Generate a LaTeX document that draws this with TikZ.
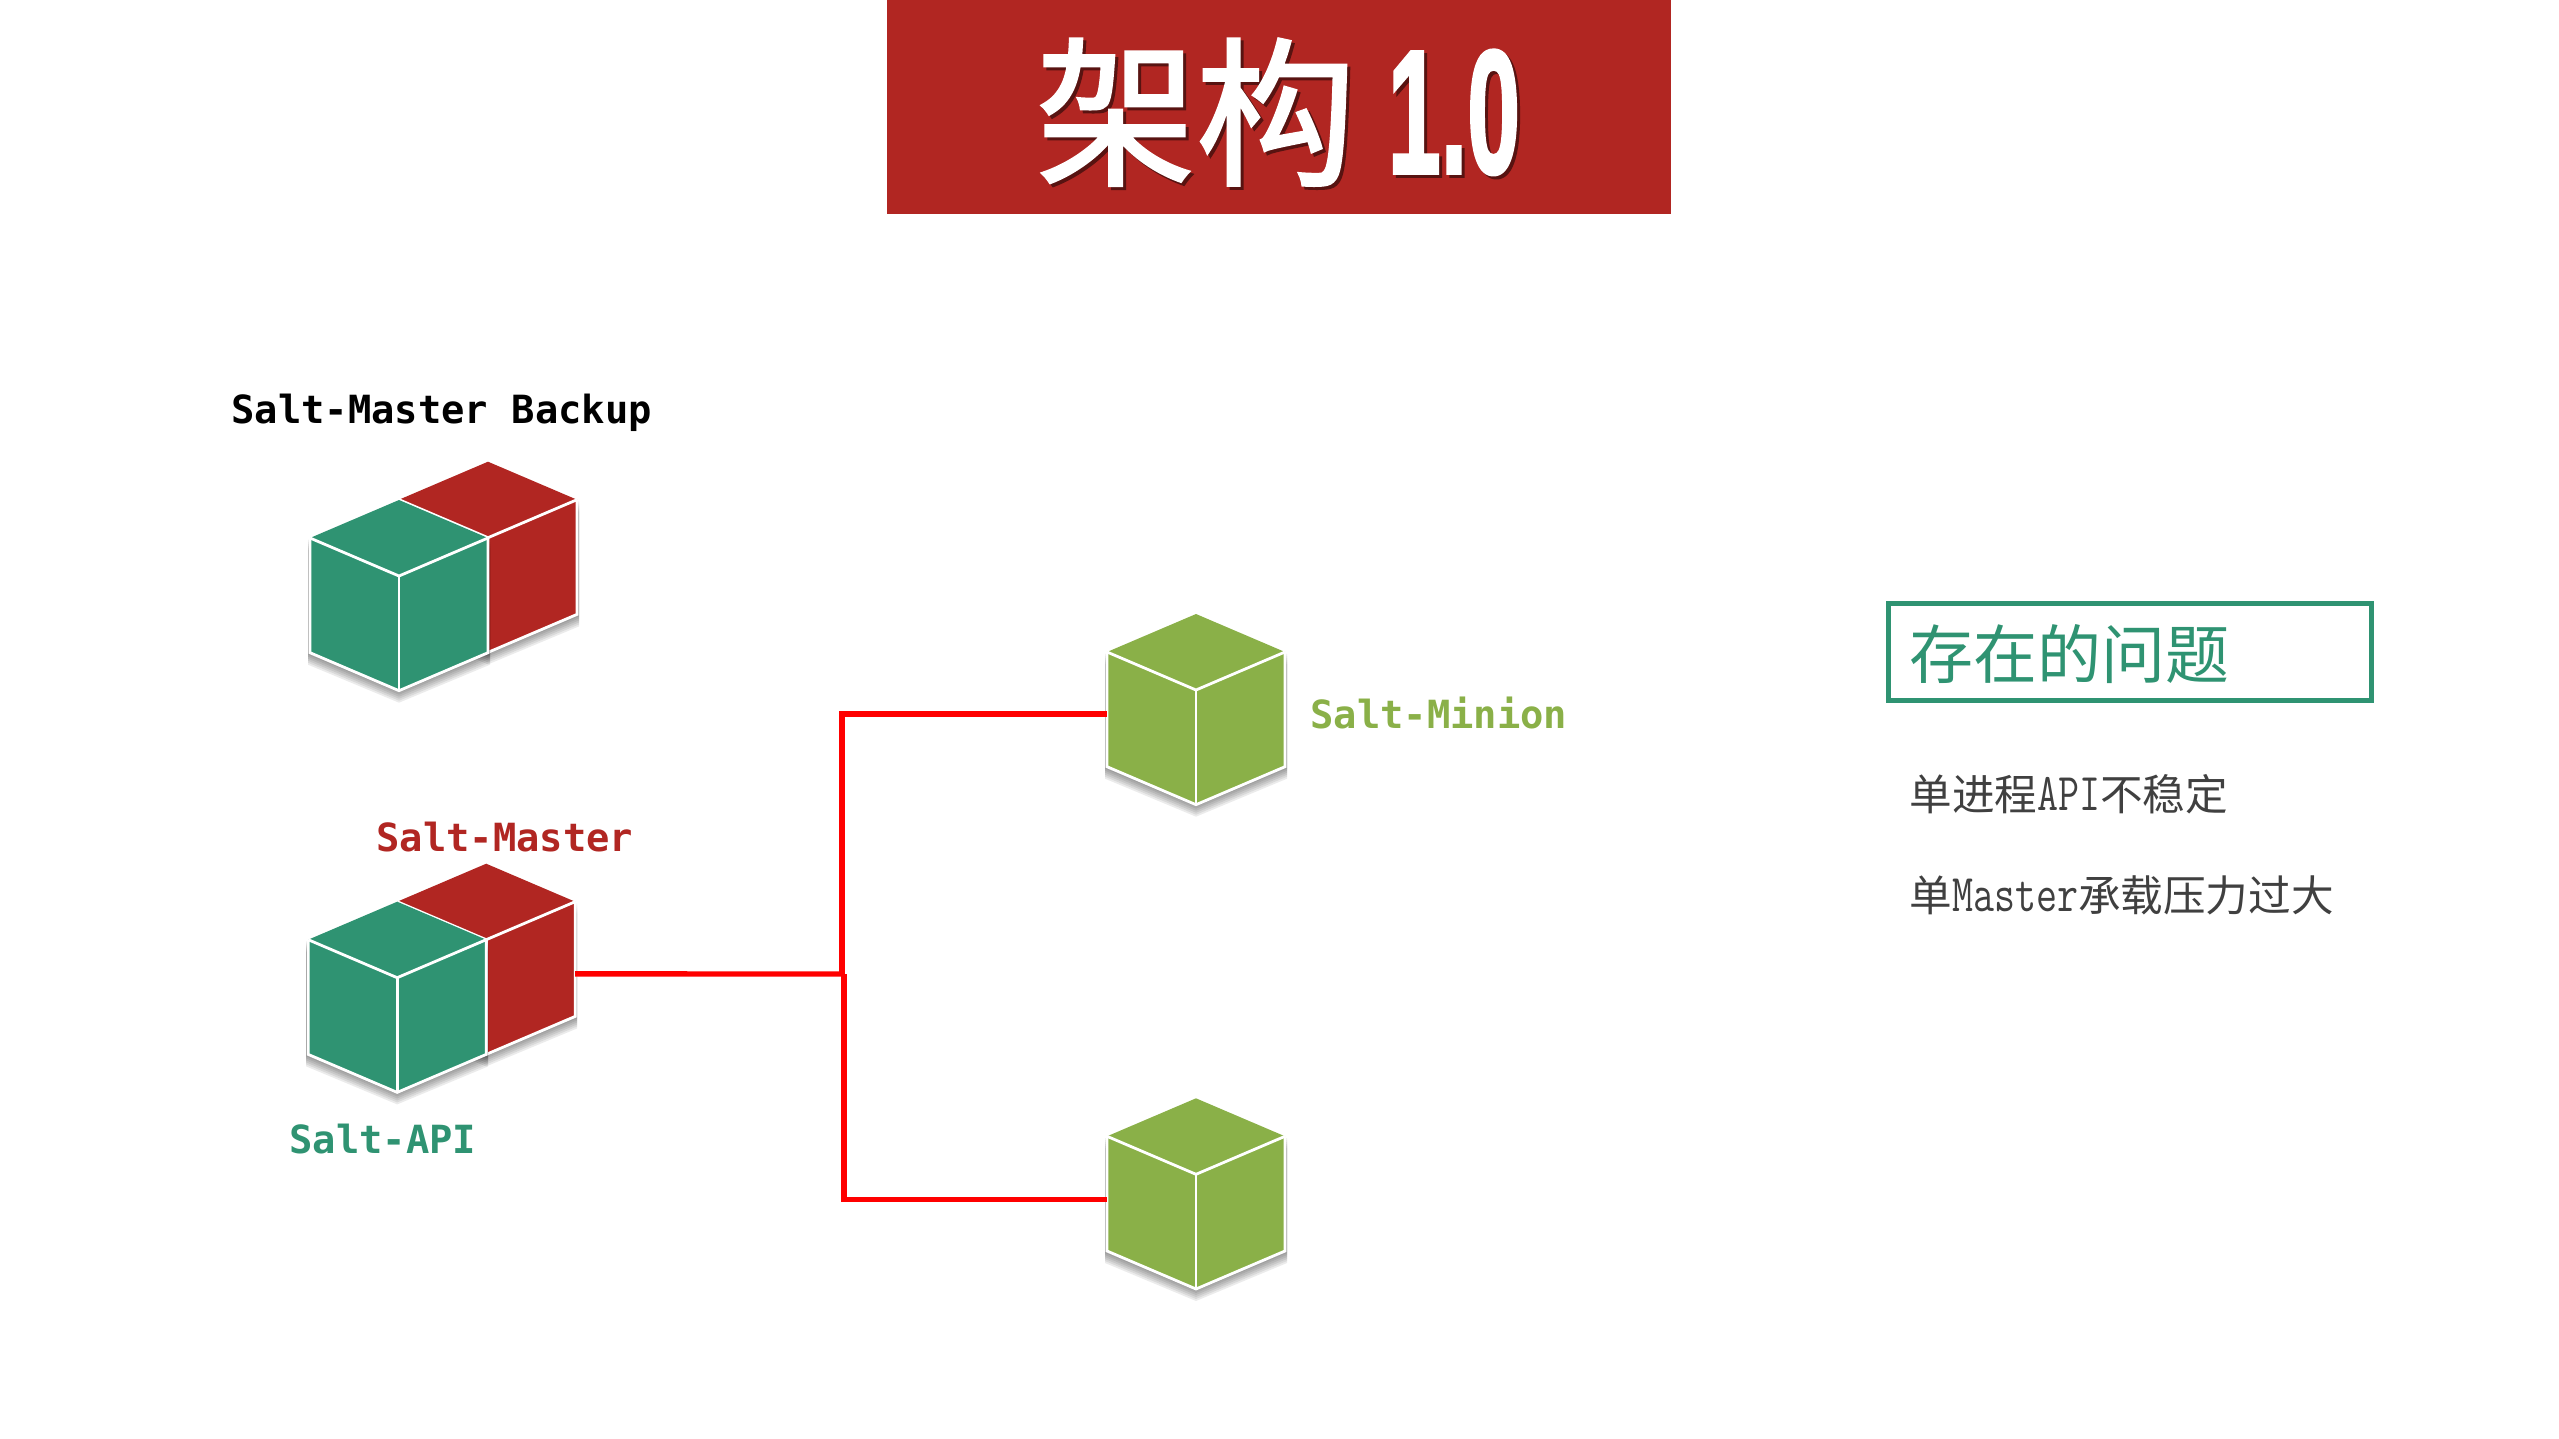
\documentclass[tikz,border=0pt]{standalone}
\usepackage{fontspec}
\usetikzlibrary{positioning,calc}
\newfontfamily\cjk{Noto Sans CJK SC}
\newfontfamily\titlefont[FakeBold=1.6]{Noto Sans CJK SC}
\newfontfamily\codefont{DejaVu Sans Mono}
\newfontfamily\numfont[FakeBold=2]{Liberation Sans Bold}
\definecolor{saltred}{HTML}{B12622}
\definecolor{saltgreen}{HTML}{2F9372}
\definecolor{saltolive}{HTML}{8AB048}
\definecolor{bodygrey}{HTML}{404040}

\newcommand{\halfw}[1]{\scalebox{1}[1.3]{\ttfamily\fontsize{20.4}{24}\selectfont #1}}
\newcommand{\bannertext}{架构\hspace{16pt}{\numfont\scalebox{0.54}[1]{\fontsize{88}{90}\selectfont 1.0}}}

% one isometric cube, drawn around the box node #1
\newcommand{\isocube}[2]{
	\begin{scope}[shift={(#1)}]
		\foreach \k in {1,...,6}
			\fill[black,opacity=0.08] (-91,-57+\k*2) -- (0,-95+\k*2) -- (91,-57+\k*2) -- (91,57.7+\k*2) -- (0,95.7+\k*2) -- (-91,57.7+\k*2) -- cycle;
		\fill[#2] (-89,-57) -- (0,-95) -- (89,-57) -- (89,57.7) -- (0,95.7) -- (-89,57.7) -- cycle;
		\draw[cubeedge] (-89,-57) -- (0,-19) -- (89,-57);
		\draw[cubeedge] (0,-19) -- (0,95.7);
		\draw[cubeedge] (-89,-57) -- (-89,57.7) -- (0,95.7) -- (89,57.7) -- (89,-57);
	\end{scope}
}

\begin{document}
\begin{tikzpicture}
	% Styles
	[
	x=0.5pt,y=-0.5pt,
	cubebox/.style={inner sep=0pt,outer sep=0pt,minimum width=89pt,minimum height=95.35pt},
	cubeedge/.style={white,line width=1.4pt},
	link/.style={red,line width=2.7pt},
	tag/.style={anchor=base west,inner sep=0pt,font=\codefont\bfseries\fontsize{19.4}{23}\selectfont},
	issue/.style={anchor=base west,inner sep=0pt,text=bodygrey,font=\cjk\fontsize{21.3}{25}\selectfont},
	banner/.style={anchor=base,inner sep=0pt,font=\titlefont\fontsize{80}{90}\selectfont},
	]
	\useasboundingbox (0,0) rectangle (2559,1439);

	% Nodes
	\node at (1279,107) (bannerbox) [fill=saltred,inner sep=0pt,minimum width=392pt,minimum height=107pt] {};
	\node at (1281,176) (titleshadow) [banner,text=black!50!saltred] {\bannertext};
	\node at (1278,173) (titletext) [banner,text=white] {\bannertext};

	\node at (488,556.7) (backupred) [cubebox] {};
	\node at (399,595) (backupgreen) [cubebox] {};
	\node at (486.2,958.7) (masterred) [cubebox] {};
	\node at (397.2,996.7) (apigreen) [cubebox] {};
	\node at (1196,709) (minionone) [cubebox] {};
	\node at (1196,1193.3) (miniontwo) [cubebox] {};

	\node at (231,423) (backuplabel) [tag] {Salt-Master Backup};
	\node at (376,851) (masterlabel) [tag,text=saltred] {Salt-Master};
	\node at (289,1153) (apilabel) [tag,text=saltgreen] {Salt-API};
	\node at (1310,728) (minionlabel) [tag,text=saltolive] {Salt-Minion};

	\node at (2129.5,651.5) (issuebox) [draw=saltgreen,line width=2.5pt,inner sep=0pt,minimum width=241.5pt,minimum height=48.5pt] {};
	\node at (1909,678) (issuetitle) [anchor=base west,inner sep=0pt,text=saltgreen,font=\cjk\fontsize{32}{38}\selectfont] {存在的问题};
	\node at (1909,810) (issueone) [issue] {单进程\halfw{API}不稳定};
	\node at (1909,911) (issuetwo) [issue] {单\halfw{Master}承载压力过大};

	\isocube{backupred}{saltred}
	\isocube{backupgreen}{saltgreen}
	\isocube{masterred}{saltred}
	\isocube{apigreen}{saltgreen}
	\isocube{minionone}{saltolive}
	\isocube{miniontwo}{saltolive}

	% Connections
	\coordinate (hubup) at (842,974);
	\coordinate (hubdown) at (844,974);
	\draw[link] ([yshift=-7.6pt]masterred.east) -- (hubdown);
	\draw[link] (hubup) |- ([yshift=-2.4pt]minionone.west);
	\draw[link] (hubdown) |- ([yshift=-3pt]miniontwo.west);

\end{tikzpicture}
\end{document}
